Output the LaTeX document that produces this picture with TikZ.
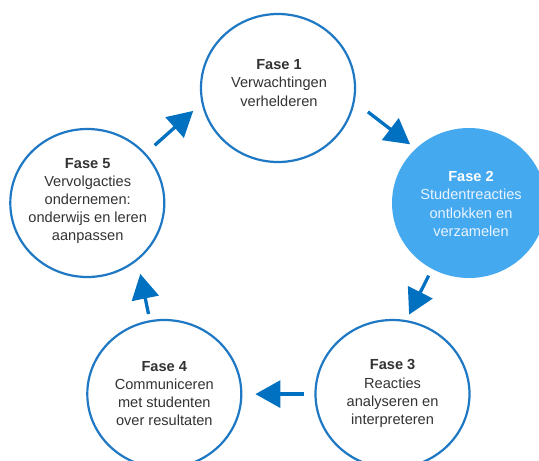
\documentclass[tikz,border=0pt]{standalone}
\usepackage{fontspec}
\setmainfont{Liberation Sans}
\usetikzlibrary{arrows.meta,shapes.geometric}
\definecolor{ringblue}{HTML}{1F78C4}
\definecolor{arrowblue}{HTML}{0070C0}
\definecolor{fillblue}{HTML}{45A9F0}
\definecolor{txtgray}{HTML}{333333}
\definecolor{lighttxt}{HTML}{E8F4FF}
\tikzset{
  ring/.style={ellipse, draw=ringblue, line width=2.2pt, minimum width=154pt, minimum height=148pt, inner sep=0pt},
  ringfill/.style={ellipse, fill=fillblue, minimum width=154pt, minimum height=150pt, inner sep=0pt},
  phasetext/.style={align=center, text=txtgray, font=\fontsize{14.6pt}{18.2pt}\selectfont, inner sep=0pt},
  cyclearrow/.style={draw=arrowblue, line width=3.3pt, -{Triangle[length=25pt,width=27pt]}}
}
\begin{document}
\begin{tikzpicture}[x=1pt,y=-1pt]
\useasboundingbox (0,0) rectangle (539,461);
\clip (0,0) rectangle (539,461);
\fill[white] (0,0) rectangle (539,461);
% circles
\node[ring] (c1) at (278,88) {};
\node[ringfill] (c2) at (469,203) {};
\node[ring] (c3) at (392.5,394) {};
\node[ring] (c4) at (164.3,394) {};
\node[ring] (c5) at (87.3,203) {};
% texts
\node[phasetext] (t1) at (279,83) {\textbf{Fase 1}\\Verwachtingen\\verhelderen};
\node[phasetext, text=lighttxt] (t2) at (471,204) {\textcolor{white}{\textbf{Fase 2}}\\Studentreacties\\ontlokken en\\verzamelen};
\node[phasetext] (t3) at (392.6,393.6) {\textbf{Fase 3}\\Reacties\\analyseren en\\interpreteren};
\node[phasetext] (t4) at (164.3,393.6) {\textbf{Fase 4}\\Communiceren\\met studenten\\over resultaten};
\node[phasetext] (t5) at (87.7,201) {\textbf{Fase 5}\\Vervolgacties\\ondernemen:\\onderwijs en leren\\aanpassen};
% arrow end points
\coordinate (a51) at (154.7,145.3);
\coordinate (b51) at (193.2,110.9);
\coordinate (a12) at (367.9,111.9);
\coordinate (b12) at (410.1,144.3);
\coordinate (a23) at (428.7,275.6);
\coordinate (b23) at (409.1,314.6);
\coordinate (a34) at (303.6,394.1);
\coordinate (b34) at (255.4,394.1);
\coordinate (a45) at (148.5,314);
\coordinate (b45) at (140.3,273.9);
\draw[cyclearrow] (a51) -- (b51);
\draw[cyclearrow] (a12) -- (b12);
\draw[cyclearrow] (a23) -- (b23);
\draw[cyclearrow] (a34) -- (b34);
\draw[cyclearrow] (a45) -- (b45);
\end{tikzpicture}
\end{document}
